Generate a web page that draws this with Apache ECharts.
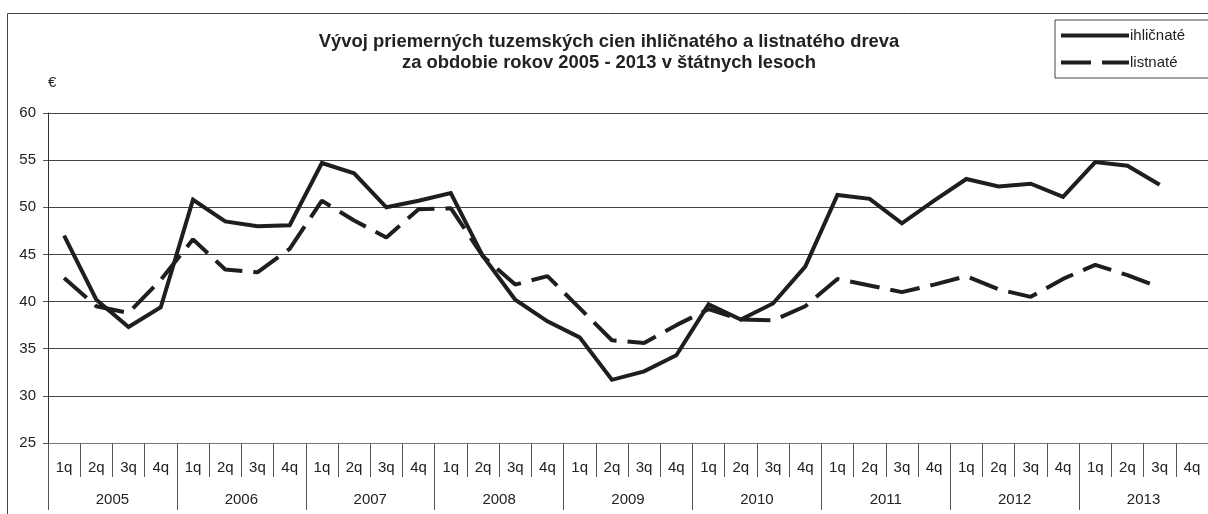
<!DOCTYPE html>
<html>
<head>
<meta charset="utf-8">
<script src="https://cdn.jsdelivr.net/npm/echarts@6/dist/echarts.min.js"></script>
<style>
  html, body { margin: 0; padding: 0; background: #fff; }
  #chart { width: 1208px; height: 514px; }
</style>
</head>
<body>
<div id="chart"></div>
<script>
// quarters and years on the two-level x axis
const quarters = [];
const years = ["2005", "2006", "2007", "2008", "2009", "2010", "2011", "2012", "2013"];
years.forEach(y => ["1q", "2q", "3q", "4q"].forEach(q => quarters.push(q)));

// average prices, €
const ihlicnate = [47.0, 40.2, 37.3, 39.4, 50.8, 48.5, 48.0, 48.1,
  54.7, 53.6, 50.0, 50.7, 51.5, 44.8, 40.2, 37.9,
  36.2, 31.7, 32.6, 34.3, 39.7, 38.1, 39.8, 43.7,
  51.3, 50.9, 48.3, 50.7, 53.0, 52.2, 52.5, 51.1,
  54.8, 54.4, 52.4, null];
const listnate = [42.5, 39.5, 38.8, 42.3, 46.6, 43.4, 43.1, 45.6,
  50.7, 48.6, 46.8, 49.8, 49.9, 44.8, 41.8, 42.7,
  39.3, 35.9, 35.6, 37.5, 39.2, 38.1, 38.0, 39.5,
  42.4, 41.7, 41.0, 41.8, 42.7, 41.3, 40.5, 42.4,
  43.9, 42.8, 41.5, null];

const font = "Liberation Sans, Arial, sans-serif";
const ink = "#1e1e1e";

const chart = echarts.init(document.getElementById("chart"));
chart.setOption({
  animation: false,
  backgroundColor: "#fff",
  textStyle: { fontFamily: font },
  title: {
    text: "Vývoj priemerných tuzemských cien ihličnatého a listnatého dreva\nza obdobie rokov 2005 - 2013 v štátnych lesoch",
    left: 604,
    top: 26,
    textAlign: "center",
    textStyle: { fontFamily: font, fontSize: 18.4, fontWeight: "bold", color: "#222", lineHeight: 21 }
  },
  legend: {
    orient: "vertical",
    left: 1055,
    top: 20,
    padding: [8, 30, 8, 4],
    itemWidth: 68,
    itemHeight: 10,
    itemGap: 12,
    borderColor: "#444",
    borderWidth: 1,
    itemStyle: { opacity: 0 },
    lineStyle: { width: 4 },
    textStyle: { fontFamily: font, fontSize: 15, color: "#222", padding: [0, 0, 0, -4] },
    data: ["ihličnaté", "listnaté"]
  },
  grid: { left: 48, right: -5, top: 113, bottom: 71 },
  xAxis: [
    {
      type: "category",
      data: quarters,
      boundaryGap: true,
      axisLine: { show: true, lineStyle: { color: "#777", width: 1 } },
      axisTick: { show: true, interval: 0, length: 34, lineStyle: { color: "#555", width: 1 } },
      axisLabel: { interval: 0, margin: 17, fontSize: 15, color: "#222", fontFamily: font }
    },
    {
      type: "category",
      data: years,
      position: "bottom",
      boundaryGap: true,
      axisLine: { show: false },
      axisTick: { show: true, interval: 0, length: 67, lineStyle: { color: "#555", width: 1 } },
      axisLabel: { interval: 0, margin: 49, fontSize: 15, color: "#222", fontFamily: font }
    }
  ],
  yAxis: {
    type: "value",
    min: 25,
    max: 60,
    interval: 5,
    name: "€",
    nameGap: 23,
    nameTextStyle: { align: "left", fontSize: 15, color: "#222", fontFamily: font },
    axisLine: { show: true, lineStyle: { color: "#333", width: 1 } },
    axisTick: { show: true, length: 5, lineStyle: { color: "#555", width: 1 } },
    axisLabel: { margin: 12, fontSize: 15, color: "#222", fontFamily: font },
    splitLine: { lineStyle: { color: "#444", width: 1 } }
  },
  graphic: [{
    type: "rect",
    shape: { x: 7.5, y: 13.5, width: 1300, height: 600 },
    style: { fill: null, stroke: "#444", lineWidth: 1 },
    silent: true,
    z: 100
  }],
  series: [
    {
      name: "ihličnaté",
      type: "line",
      data: ihlicnate,
      symbol: "none",
      lineStyle: { color: ink, width: 4, join: "miter" },
      itemStyle: { color: ink }
    },
    {
      name: "listnaté",
      type: "line",
      data: listnate,
      symbol: "none",
      lineStyle: { color: ink, width: 4, type: [30, 11] },
      itemStyle: { color: ink }
    }
  ]
});
</script>
</body>
</html>
